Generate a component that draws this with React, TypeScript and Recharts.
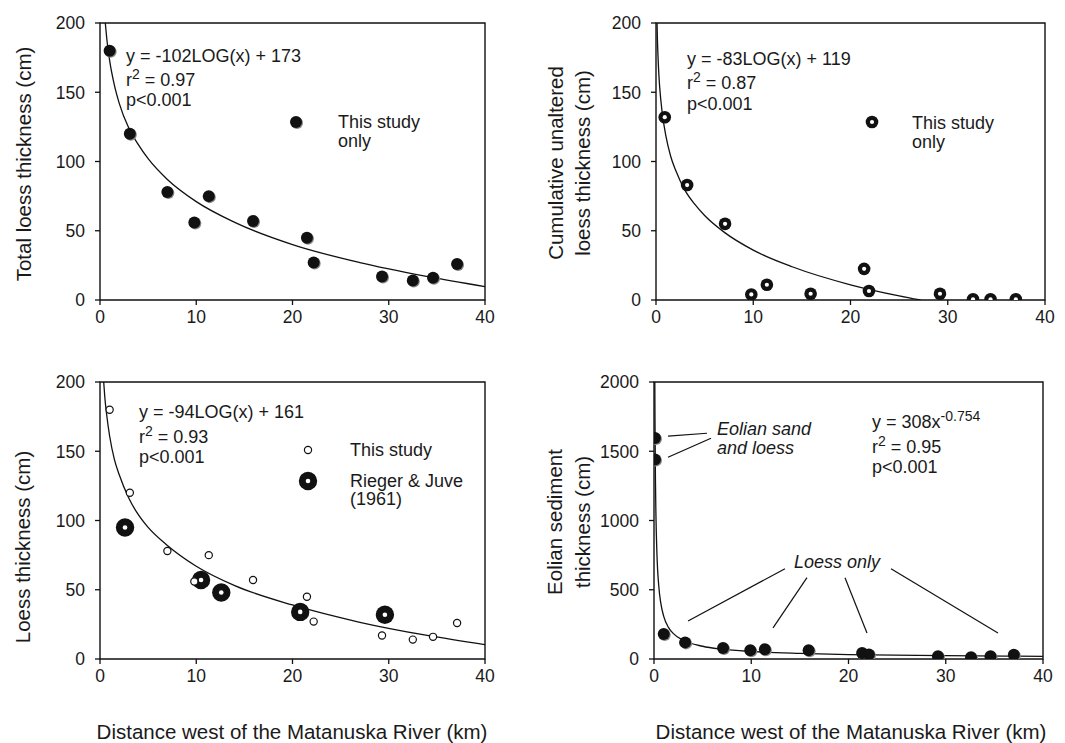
import React from 'react';
import {
  ComposedChart,
  Line,
  Scatter,
  XAxis,
  YAxis,
  ReferenceArea,
  ReferenceLine,
} from 'recharts';

// --- data ---
const distTicks = [0, 10, 20, 30, 40];
const loessTicks = [0, 50, 100, 150, 200];
const eolianTicks = [0, 500, 1000, 1500, 2000];

// total loess thickness, this study
const studyX = [1.0, 3.1, 7.0, 9.8, 11.3, 15.9, 21.5, 22.2, 29.3, 32.5, 34.6, 37.1];
const studyY = [180, 120, 78, 56, 75, 57, 45, 27, 17, 14, 16, 26];

// cumulative unaltered loess thickness
const unalteredX = [0.9, 3.2, 7.1, 9.8, 11.4, 15.9, 21.4, 21.9, 29.2, 32.6, 34.4, 37.0];
const unalteredY = [132, 83, 55, 4, 11, 4.5, 22.5, 6.5, 4.5, 0.5, 0.5, 0.5];

// Rieger & Juve (1961)
const riegerX = [2.6, 10.5, 12.6, 20.8, 29.6];
const riegerY = [95, 57, 48, 34, 32];

// eolian sediment thickness
const eolianX = [0.1, 0.1, 1.0, 3.2, 7.1, 9.9, 11.4, 15.9, 21.4, 22.1, 29.2, 32.6, 34.6, 37.0];
const eolianY = [1595, 1440, 180, 120, 80, 63, 70, 63, 43, 32, 20, 12, 20, 30];

// fitted curves, values
const fit1X = [0.55, 0.7, 1, 1.5, 2, 3, 4, 5, 7, 10, 14, 20, 27, 34, 40];
const fit1Y = [200, 189, 173, 155, 142, 124, 112, 102, 87, 71, 56, 40, 27, 17, 9.6];

const fit2X = [0.106, 0.15, 0.2, 0.3, 0.5, 0.7, 1, 1.5, 2, 3, 4, 5, 7, 10, 14, 20, 25, 27.2];
const fit2Y = [200, 187, 177, 162, 144, 132, 119, 104, 94, 79, 69, 61, 49, 36, 24, 11, 3, 0];

const fit3X = [0.385, 0.5, 0.7, 1, 1.5, 2, 3, 4, 5, 7, 10, 14, 20, 27, 34, 40];
const fit3Y = [200, 189, 176, 161, 144, 133, 116, 104, 95, 82, 67, 53, 39, 26.5, 17, 10.4];

const fit4X = [0.084, 0.1, 0.15, 0.2, 0.3, 0.5, 0.7, 1, 1.5, 2, 3, 5, 7, 10, 15, 20, 30, 40];
const fit4Y = [2000, 1748, 1288, 1037, 764, 520, 403, 308, 227, 183, 135, 92, 71, 54, 40, 32, 24, 19];

// leader lines in panel d (data units)
const leaders = [
  [1.44, 1609, 5.45, 1630],
  [1.44, 1457, 5.86, 1594],
  [13.47, 652, 3.5, 275],
  [15.73, 587, 12.24, 225],
  [19.64, 587, 21.9, 188],
  [24.37, 652, 35.37, 188],
];

const zip = (xs: number[], ys: number[]) => xs.map((x, i) => ({ x, y: ys[i] }));

const FONT = '"Liberation Sans", Arial, Helvetica, sans-serif';
const INK = '#111';
const TXT = '#1a1a1a';

const FilledDot = (p: any) => (
  <g>
    <circle cx={p.cx + 1} cy={p.cy + 1} r={6} fill="#888" />
    <circle cx={p.cx} cy={p.cy} r={6} fill={INK} />
  </g>
);
const Ring = (p: any) => (
  <g>
    <circle cx={p.cx} cy={p.cy} r={6.3} fill={INK} />
    <circle cx={p.cx} cy={p.cy} r={2.1} fill="#fff" />
  </g>
);
const OpenDot = (p: any) => (
  <circle cx={p.cx} cy={p.cy} r={3.6} fill="#fff" stroke={INK} strokeWidth={1.2} />
);
const BigRing = (p: any) => (
  <g>
    <circle cx={p.cx} cy={p.cy} r={9.2} fill={INK} />
    <circle cx={p.cx} cy={p.cy} r={2.3} fill="#fff" />
  </g>
);

const XTick = (p: any) => (
  <text x={p.x} y={p.y} dy="0.72em" textAnchor="middle" fontSize={17.5} fontFamily={FONT} fill={TXT}>
    {p.payload.value}
  </text>
);
const YTick = (p: any) => (
  <text x={p.x} y={p.y} dy="0.36em" textAnchor="end" fontSize={17.5} fontFamily={FONT} fill={TXT}>
    {p.payload.value}
  </text>
);

function Frame(props: {
  left: number;
  top: number;
  width: number;
  plotLeft: number;
  plotRight: number;
  yMax: number;
  yTicks: number[];
  children: React.ReactNode;
}) {
  const { left, top, width, plotLeft, plotRight, yMax, yTicks, children } = props;
  const H = 340;
  const yWidth = 80;
  return (
    <div style={{ position: 'absolute', left, top, width, height: H }}>
      <ComposedChart
        width={width}
        height={H}
        margin={{ top: 23, right: width - plotRight, bottom: 0, left: plotLeft - yWidth }}
      >
        <XAxis
          type="number"
          dataKey="x"
          domain={[0, 40]}
          ticks={distTicks}
          axisLine={false}
          tickLine={{ stroke: INK, strokeWidth: 1.3 }}
          tickSize={5}
          tickMargin={5}
          tick={XTick}
          height={40}
          allowDataOverflow
        />
        <YAxis
          type="number"
          dataKey="y"
          domain={[0, yMax]}
          ticks={yTicks}
          axisLine={false}
          tickLine={{ stroke: INK, strokeWidth: 1.3 }}
          tickSize={5}
          tickMargin={10}
          tick={YTick}
          width={yWidth}
          allowDataOverflow
        />
        <ReferenceArea x1={0} x2={40} y1={0} y2={yMax} fill="none" stroke={INK} strokeWidth={1.4} />
        {children}
      </ComposedChart>
    </div>
  );
}

const fitLine = (xs: number[], ys: number[]) => (
  <Line
    data={zip(xs, ys)}
    dataKey="y"
    type="monotone"
    dot={false}
    stroke={INK}
    strokeWidth={1.3}
    isAnimationActive={false}
    legendType="none"
  />
);

const Sup = ({ children }: { children: React.ReactNode }) => (
  <tspan fontSize={14} dy={-7}>
    {children}
  </tspan>
);

function Stats(props: { x: number; y: number; gap1: number; gap2: number; eq: React.ReactNode; r2: string }) {
  const { x, y, gap1, gap2, eq, r2 } = props;
  return (
    <g>
      <text x={x} y={y}>{eq}</text>
      <text x={x} y={y + gap1}>
        r<Sup>2</Sup>
        <tspan dy={7}> = {r2}</tspan>
      </text>
      <text x={x} y={y + gap1 + gap2}>p&lt;0.001</text>
    </g>
  );
}

export default function App() {
  return (
    <div
      style={{
        position: 'absolute',
        left: 0,
        top: 0,
        width: 1065,
        height: 743,
        background: '#fff',
        fontFamily: FONT,
      }}
    >
      {/* a: total loess */}
      <Frame left={0} top={0} width={530} plotLeft={100} plotRight={485} yMax={200} yTicks={loessTicks}>
        {fitLine(fit1X, fit1Y)}
        <Scatter data={zip(studyX, studyY)} dataKey="y" shape={FilledDot} isAnimationActive={false} />
      </Frame>

      {/* b: cumulative unaltered loess */}
      <Frame left={530} top={0} width={535} plotLeft={126} plotRight={515} yMax={200} yTicks={loessTicks}>
        {fitLine(fit2X, fit2Y)}
        <Scatter data={zip(unalteredX, unalteredY)} dataKey="y" shape={Ring} isAnimationActive={false} />
      </Frame>

      {/* c: loess incl. Rieger & Juve */}
      <Frame left={0} top={359} width={530} plotLeft={100} plotRight={485} yMax={200} yTicks={loessTicks}>
        {fitLine(fit3X, fit3Y)}
        <Scatter data={zip(riegerX, riegerY)} dataKey="y" shape={BigRing} isAnimationActive={false} />
        <Scatter data={zip(studyX, studyY)} dataKey="y" shape={OpenDot} isAnimationActive={false} />
      </Frame>

      {/* d: eolian sediment */}
      <Frame left={530} top={359} width={535} plotLeft={124} plotRight={513} yMax={2000} yTicks={eolianTicks}>
        {fitLine(fit4X, fit4Y)}
        {leaders.map((s, i) => (
          <ReferenceLine
            key={i}
            segment={[
              { x: s[0], y: s[1] },
              { x: s[2], y: s[3] },
            ]}
            stroke={INK}
            strokeWidth={1.2}
          />
        ))}
        <Scatter data={zip(eolianX, eolianY)} dataKey="y" shape={FilledDot} isAnimationActive={false} />
      </Frame>

      {/* text layer */}
      <svg
        width={1065}
        height={743}
        style={{ position: 'absolute', left: 0, top: 0, pointerEvents: 'none', whiteSpace: 'pre' }}
        fontFamily={FONT}
        fontSize={18}
        fill={TXT}
      >
        {/* axis titles */}
        <g fontSize={20.5}>
          <text transform="translate(31,164) rotate(-90)" textAnchor="middle">Total loess thickness (cm)</text>
          <text transform="translate(563,163) rotate(-90)" textAnchor="middle">Cumulative unaltered</text>
          <text transform="translate(590,163) rotate(-90)" textAnchor="middle">loess  thickness (cm)</text>
          <text transform="translate(30,547) rotate(-90)" textAnchor="middle">Loess thickness (cm)</text>
          <text transform="translate(562,522) rotate(-90)" textAnchor="middle">Eolian sediment</text>
          <text transform="translate(590,522) rotate(-90)" textAnchor="middle">thickness (cm)</text>
          <text x={292} y={739} textAnchor="middle">Distance west of the Matanuska River (km)</text>
          <text x={851} y={739} textAnchor="middle">Distance west of the Matanuska River (km)</text>
        </g>

        {/* a */}
        <Stats x={126} y={62} gap1={24} gap2={20} eq="y =  -102LOG(x) + 173" r2="0.97" />
        <FilledDot cx={296} cy={122} />
        <text x={338} y={128}>This study</text>
        <text x={338} y={147}>only</text>

        {/* b */}
        <Stats x={687} y={65} gap1={24} gap2={21} eq="y =  -83LOG(x) + 119" r2="0.87" />
        <Ring cx={872} cy={122} />
        <text x={912} y={129}>This study</text>
        <text x={912} y={148}>only</text>

        {/* c */}
        <Stats x={139} y={418} gap1={25} gap2={20} eq="y =  -94LOG(x) + 161" r2="0.93" />
        <OpenDot cx={308} cy={450} />
        <text x={350} y={456}>This study</text>
        <BigRing cx={308} cy={481} />
        <text x={350} y={487}>Rieger &amp; Juve</text>
        <text x={350} y={505}>(1961)</text>

        {/* d */}
        <Stats
          x={872}
          y={428}
          gap1={25}
          gap2={20}
          eq={
            <>
              y = 308x<Sup>-0.754</Sup>
            </>
          }
          r2="0.95"
        />
        <g fontStyle="italic">
          <text x={717} y={435}>Eolian sand</text>
          <text x={717} y={454}>and loess</text>
          <text x={837} y={568} textAnchor="middle">Loess only</text>
        </g>
      </svg>
    </div>
  );
}
